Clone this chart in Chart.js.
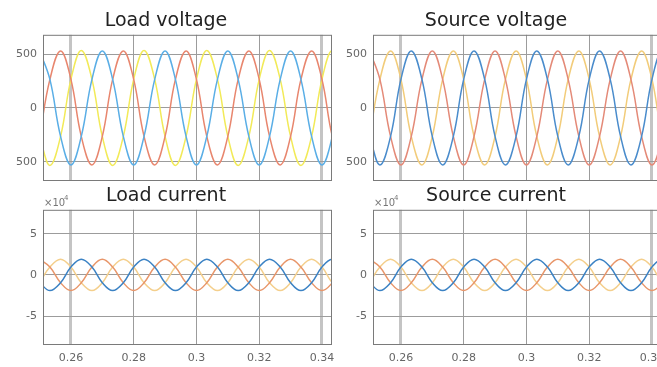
<!DOCTYPE html>
<html lang="en">
<head>
    <meta charset="UTF-8">
    <title>Load and source waveforms</title>
    <script src="https://cdn.jsdelivr.net/npm/chart.js"></script>
    <style>
        body { margin: 0; background: #fff; overflow: hidden; width: 657px; height: 367px; position: relative; }
        .panel { position: absolute; }
    </style>
</head>
<body>
    <div class="panel" style="left:0;top:0;width:350px;height:182px"><canvas id="loadVolt"></canvas></div>
    <div class="panel" style="left:330px;top:0;width:360px;height:182px"><canvas id="srcVolt"></canvas></div>
    <div class="panel" style="left:0;top:182px;width:370px;height:185px"><canvas id="loadCur"></canvas></div>
    <div class="panel" style="left:330px;top:182px;width:366px;height:185px"><canvas id="srcCur"></canvas></div>
    <script>
        // time samples (s), one every 1/6 of a 50 Hz cycle
        const times = [0.2500, 0.2533, 0.2567, 0.2600, 0.2633, 0.2667, 0.2700, 0.2733, 0.2767, 0.2800,
                       0.2833, 0.2867, 0.2900, 0.2933, 0.2967, 0.3000, 0.3033, 0.3067, 0.3100, 0.3133,
                       0.3167, 0.3200, 0.3233, 0.3267, 0.3300, 0.3333, 0.3367, 0.3400, 0.3433, 0.3467];
        const xTicks = [0.26, 0.28, 0.3, 0.32, 0.34];
        const voltTicks = [-500, 0, 500];
        const curTicks = [-50000, 0, 50000];

        // load voltage (V)
        const loadVoltRed    = [-265, 265, 530, 265, -265, -530, -265, 265, 530, 265, -265, -530, -265, 265, 530, 265, -265, -530, -265, 265, 530, 265, -265, -530, -265, 265, 530, 265, -265, -530];
        const loadVoltYellow = [-265, -535, -265, 265, 535, 265, -265, -535, -265, 265, 535, 265, -265, -535, -265, 265, 535, 265, -265, -535, -265, 265, 535, 265, -265, -535, -265, 265, 535, 265];
        const loadVoltBlue   = [530, 265, -265, -530, -265, 265, 530, 265, -265, -530, -265, 265, 530, 265, -265, -530, -265, 265, 530, 265, -265, -530, -265, 265, 530, 265, -265, -530, -265, 265];

        // source voltage (V)
        const srcVoltYellow = [-265, 265, 530, 265, -265, -530, -265, 265, 530, 265, -265, -530, -265, 265, 530, 265, -265, -530, -265, 265, 530, 265, -265, -530, -265, 265, 530, 265, -265, -530];
        const srcVoltBlue   = [-265, -530, -265, 265, 530, 265, -265, -530, -265, 265, 530, 265, -265, -530, -265, 265, 530, 265, -265, -530, -265, 265, 530, 265, -265, -530, -265, 265, 530, 265];
        const srcVoltRed    = [530, 265, -265, -530, -265, 265, 530, 265, -265, -530, -265, 265, 530, 265, -265, -530, -265, 265, 530, 265, -265, -530, -265, 265, 530, 265, -265, -530, -265, 265];

        // load current (A)
        const loadCurYellow = [-9500, 9500, 19000, 9500, -9500, -19000, -9500, 9500, 19000, 9500, -9500, -19000, -9500, 9500, 19000, 9500, -9500, -19000, -9500, 9500, 19000, 9500, -9500, -19000, -9500, 9500, 19000, 9500, -9500, -19000];
        const loadCurBlue   = [-9500, -19000, -9500, 9500, 19000, 9500, -9500, -19000, -9500, 9500, 19000, 9500, -9500, -19000, -9500, 9500, 19000, 9500, -9500, -19000, -9500, 9500, 19000, 9500, -9500, -19000, -9500, 9500, 19000, 9500];
        const loadCurRed    = [19000, 9500, -9500, -19000, -9500, 9500, 19000, 9500, -9500, -19000, -9500, 9500, 19000, 9500, -9500, -19000, -9500, 9500, 19000, 9500, -9500, -19000, -9500, 9500, 19000, 9500, -9500, -19000, -9500, 9500];

        // source current (A)
        const srcCurYellow = [-9500, 9500, 19000, 9500, -9500, -19000, -9500, 9500, 19000, 9500, -9500, -19000, -9500, 9500, 19000, 9500, -9500, -19000, -9500, 9500, 19000, 9500, -9500, -19000, -9500, 9500, 19000, 9500, -9500, -19000];
        const srcCurBlue   = [-9500, -19000, -9500, 9500, 19000, 9500, -9500, -19000, -9500, 9500, 19000, 9500, -9500, -19000, -9500, 9500, 19000, 9500, -9500, -19000, -9500, 9500, 19000, 9500, -9500, -19000, -9500, 9500, 19000, 9500];
        const srcCurRed    = [19000, 9500, -9500, -19000, -9500, 9500, 19000, 9500, -9500, -19000, -9500, 9500, 19000, 9500, -9500, -19000, -9500, 9500, 19000, 9500, -9500, -19000, -9500, 9500, 19000, 9500, -9500, -19000, -9500, 9500];

        Chart.defaults.font.family = 'DejaVu Sans';
        Chart.defaults.animation = false;

        // box round the plot area, like matlab axes
        const boxPlugin = {
            id: 'box',
            afterDraw(chart) {
                const a = chart.chartArea, c = chart.ctx;
                c.save();
                c.strokeStyle = '#7a7a7a';
                c.lineWidth = 1;
                c.strokeRect(a.left + 0.5, a.top + 0.5, a.right - a.left - 1, a.bottom - a.top - 1);
                c.restore();
            }
        };

        // "x10^4" exponent label above current axes
        const expPlugin = {
            id: 'exp',
            afterDraw(chart) {
                if (!chart.options.plugins.exp.show) return;
                const c = chart.ctx;
                c.save();
                c.fillStyle = '#777';
                c.textBaseline = 'middle';
                c.font = '10px "DejaVu Sans"';
                c.fillText('\u00d710', 44, 21);
                c.font = '7px "DejaVu Sans"';
                c.fillText('4', 64, 16);
                c.restore();
            }
        };

        function makeChart(id, cfg) {
            return new Chart(document.getElementById(id), {
                type: 'line',
                data: {
                    datasets: cfg.series.map(s => ({
                        data: s.values.map((v, i) => ({ x: times[i], y: v })),
                        borderColor: s.color,
                        borderWidth: 1.5,
                        pointRadius: 0,
                        tension: 0.4,
                        fill: false
                    }))
                },
                options: {
                    responsive: true,
                    maintainAspectRatio: false,
                    layout: { padding: { left: 0, right: cfg.padRight, top: 0, bottom: cfg.showX ? 0 : 1 } },
                    plugins: {
                        legend: { display: false },
                        tooltip: { enabled: false },
                        exp: { show: cfg.exp },
                        title: {
                            display: true,
                            text: cfg.title,
                            color: '#222',
                            font: { size: 19, weight: 'normal' },
                            padding: cfg.titlePad
                        }
                    },
                    scales: {
                        x: {
                            type: 'linear',
                            min: 0.2511,
                            max: 0.3432,
                            border: { display: false },
                            afterBuildTicks: s => { s.ticks = xTicks.map(v => ({ value: v })); },
                            afterFit: s => { s.height = cfg.showX ? 22 : 0; },
                            grid: {
                                drawTicks: false,
                                color: c => (Math.abs(c.tick.value - 0.26) < 1e-6 || Math.abs(c.tick.value - 0.34) < 1e-6) ? '#c4c4c4' : '#9c9c9c',
                                lineWidth: c => (Math.abs(c.tick.value - 0.26) < 1e-6 || Math.abs(c.tick.value - 0.34) < 1e-6) ? 3 : 1
                            },
                            ticks: {
                                display: cfg.showX,
                                color: '#666',
                                font: { size: 11 },
                                padding: 7,
                                maxRotation: 0,
                                callback: v => String(v)
                            }
                        },
                        y: {
                            min: cfg.yMin,
                            max: cfg.yMax,
                            border: { display: false },
                            afterBuildTicks: s => { s.ticks = cfg.yTicks.map(v => ({ value: v })); },
                            afterFit: s => { s.width = 43; s.paddingTop = 0; s.paddingBottom = 0; },
                            grid: { drawTicks: false, color: '#9c9c9c', lineWidth: 1 },
                            ticks: {
                                color: '#666',
                                font: { size: 11 },
                                padding: 6,
                                callback: cfg.yLabel
                            }
                        }
                    }
                },
                plugins: [boxPlugin, expPlugin]
            });
        }

        // minus signs of the lower voltage ticks are not shown in the original
        const voltLabel = v => String(Math.abs(v));
        const curLabel = v => String(v / 10000);

        makeChart('loadVolt', {
            title: 'Load voltage', titlePad: { top: 10, bottom: 2 }, padRight: 18,
            showX: false, exp: false, yMin: -680, yMax: 680, yTicks: voltTicks, yLabel: voltLabel,
            series: [
                { values: loadVoltBlue, color: '#5aaee6' },
                { values: loadVoltRed, color: '#e8866e' },
                { values: loadVoltYellow, color: '#f2ea58' }
            ]
        });
        makeChart('srcVolt', {
            title: 'Source voltage', titlePad: { top: 10, bottom: 2 }, padRight: 28,
            showX: false, exp: false, yMin: -680, yMax: 680, yTicks: voltTicks, yLabel: voltLabel,
            series: [
                { values: srcVoltBlue, color: '#4a8ccc' },
                { values: srcVoltRed, color: '#e48a78' },
                { values: srcVoltYellow, color: '#f2cc7a' }
            ]
        });
        makeChart('loadCur', {
            title: 'Load current', titlePad: { top: 3, bottom: 2 }, padRight: 38,
            showX: true, exp: true, yMin: -85000, yMax: 79000, yTicks: curTicks, yLabel: curLabel,
            series: [
                { values: loadCurBlue, color: '#3b82c4' },
                { values: loadCurRed, color: '#e8966a' },
                { values: loadCurYellow, color: '#f4cf8c' }
            ]
        });
        makeChart('srcCur', {
            title: 'Source current', titlePad: { top: 3, bottom: 2 }, padRight: 34,
            showX: true, exp: true, yMin: -85000, yMax: 79000, yTicks: curTicks, yLabel: curLabel,
            series: [
                { values: srcCurBlue, color: '#3b82c4' },
                { values: srcCurRed, color: '#e8966a' },
                { values: srcCurYellow, color: '#f4cf8c' }
            ]
        });
    </script>
</body>
</html>
